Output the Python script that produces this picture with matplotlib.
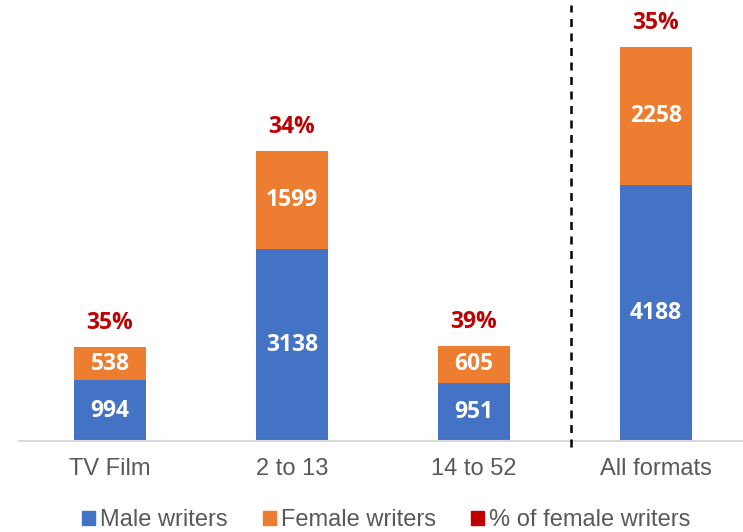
import matplotlib.pyplot as plt
from matplotlib.patches import Patch

categories = ['TV Film', '2 to 13', '14 to 52', 'All formats']
male = [994, 3138, 951, 4188]
female = [538, 1599, 605, 2258]
pct_female = ['35%', '34%', '39%', '35%']

blue = '#4472C4'
orange = '#ED7D31'
red = '#C00000'
grey = '#595959'

fig = plt.figure(figsize=(7.43, 5.32), dpi=100)
ax = fig.add_axes([19 / 743, 91 / 532, 724 / 743, 441 / 532])

x = list(range(len(categories)))
ax.bar(x, male, width=0.4, color=blue, zorder=2)
ax.bar(x, female, width=0.4, bottom=male, color=orange, zorder=2)

lab_font = dict(family=['Open Sans', 'Lato', 'DejaVu Sans'], fontsize=16.5, fontweight='bold')
for i in x:
    ax.text(i, male[i] / 2, str(male[i]), ha='center', va='center', color='white', **lab_font)
    ax.text(i, male[i] + female[i] / 2, str(female[i]), ha='center', va='center', color='white', **lab_font)
    ax.annotate(pct_female[i], (i, male[i] + female[i]), xytext=(0, 17.5), textcoords='offset points',
                ha='center', va='center', color=red, **lab_font)

# separator between formats and total
ax.plot([2.533, 2.533], [-100, 7135], color='black', lw=1.8, ls=(0, (3.2, 2.6)), clip_on=False, zorder=3)

ax.set_xlim(-0.5, 3.478)
ax.set_ylim(0, 7215)
ax.set_yticks([])
ax.set_xticks(x)
ax.set_xticklabels(categories, family='Liberation Sans', fontsize=17, color=grey)
ax.tick_params(axis='x', length=0, pad=12)
for s in ['top', 'right', 'left']:
    ax.spines[s].set_visible(False)
ax.spines['bottom'].set_color('#D9D9D9')
ax.spines['bottom'].set_linewidth(1.5)

handles = [Patch(color=blue, label='Male writers'),
           Patch(color=orange, label='Female writers'),
           Patch(color=red, label='% of female writers')]
fig.legend(handles=handles, loc='center', bbox_to_anchor=(0.52, 12 / 532), ncol=3, frameon=False,
           prop=dict(family='Liberation Sans', size=17), labelcolor=grey,
           handlelength=0.55, handleheight=0.55, handletextpad=0.2, columnspacing=1.5)

fig.savefig('out.png', dpi=100)
